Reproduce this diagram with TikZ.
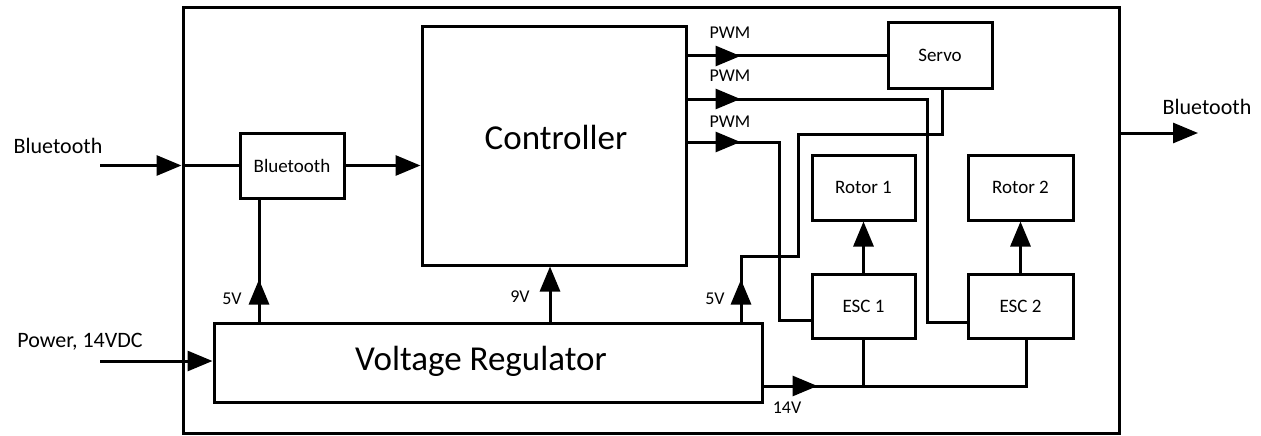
\documentclass[tikz,border=0pt]{standalone}
\usepackage{fontspec}
\setmainfont{Carlito}
\usetikzlibrary{arrows.meta,decorations.markings}
\begin{document}
\begin{tikzpicture}[x=1pt,y=-1pt,
  box/.style={draw, line width=3pt, inner sep=0pt, font=\fontsize{19}{21}\selectfont},
  wire/.style={line width=3pt},
  arr/.style={wire, -{Triangle[length=25pt,width=20pt]}},
  midarrow/.style={wire, postaction={decorate}, decoration={markings, mark=at position #1 with {\arrow{Triangle[length=25pt,width=20pt]}}}},
  lbl/.style={font=\fontsize{18}{20}\selectfont, inner sep=0pt},
  outlbl/.style={font=\fontsize{22}{24}\selectfont, inner sep=0pt},
  big/.style={font=\fontsize{35}{38}\selectfont, inner sep=0pt}
]
\useasboundingbox (0,0) rectangle (1261,436);
% blocks
\node[box, minimum width=936pt, minimum height=425pt] (frame) at (651,220.5) {};
\node[box, minimum width=104pt, minimum height=65pt] (bt) at (292,165.5) {Bluetooth};
\node[box, minimum width=264pt, minimum height=238pt] (ctrl) at (554,146) {};
\node[big] (ctrltext) at (556,137) {Controller};
\node[box, minimum width=548pt, minimum height=79pt] (vr) at (488,362.5) {};
\node[big] (vrtext) at (481,361) {Voltage Regulator};
\node[box, minimum width=104pt, minimum height=65pt] (servo) at (940,55.5) {Servo};
\node[box, minimum width=103pt, minimum height=65pt] (rotor1) at (863.5,187.5) {Rotor 1};
\node[box, minimum width=105pt, minimum height=65pt] (rotor2) at (1020.5,187.5) {Rotor 2};
\node[box, minimum width=103pt, minimum height=64pt] (esc1) at (863.5,306) {ESC 1};
\node[box, minimum width=105pt, minimum height=64pt] (esc2) at (1020.5,306) {ESC 2};
% helper coordinates
\coordinate (btin) at (100,165.5);
\coordinate (pwin) at (100,361);
\coordinate (btout) at (1198,133);
\coordinate (x5a) at (259,0);
\coordinate (x9) at (550,0);
\coordinate (x5b) at (741,0);
\coordinate (j1) at (741,256);
\coordinate (j2) at (798,256);
\coordinate (j3) at (798,134);
\coordinate (j4) at (942,134);
\coordinate (y1) at (0,56);
\coordinate (y2) at (0,99);
\coordinate (y3) at (0,142);
\coordinate (k1) at (927,99);
\coordinate (k2) at (927,322);
\coordinate (m1) at (779,142);
\coordinate (m2) at (779,320);
\coordinate (y14) at (0,386);
\coordinate (n1) at (1026,386);
% connectors
\draw[arr] (btin) -- (btin -| frame.west);
\draw[wire] (btin -| frame.west) -- (bt.west);
\draw[arr] (bt.east) -- (bt.east -| ctrl.west);
\draw[arr] (pwin) -- (pwin -| vr.west);
\draw[midarrow=42pt] (x5a |- vr.north) -- (x5a |- bt.south);
\draw[arr] (x9 |- vr.north) -- (x9 |- ctrl.south);
\draw[midarrow=42pt] (x5b |- vr.north) -- (j1) -- (j2) -- (j3) -- (j4) -- (j4 |- servo.south);
\draw[midarrow=53pt] (ctrl.east |- y1) -- (servo.west |- y1);
\draw[midarrow=53pt] (ctrl.east |- y2) -- (k1) -- (k2) -- (k2 -| esc2.west);
\draw[midarrow=53pt] (ctrl.east |- y3) -- (m1) -- (m2) -- (m2 -| esc1.west);
\draw[arr] (esc1.north) -- (rotor1.south);
\draw[arr] (esc2.north) -- (rotor2.south);
\draw[midarrow=54pt] (vr.east |- y14) -- (n1) -- (n1 |- esc2.south);
\draw[wire] (esc1.south |- y14) -- (esc1.south);
\draw[arr] (frame.east |- btout) -- (btout);
% labels
\node[outlbl] (lbtin) at (58,146) {Bluetooth};
\node[outlbl] (lpw) at (80,342) {Power, 14VDC};
\node[outlbl] (lbtout) at (1207,107) {Bluetooth};
\node[lbl] (lp1) at (730,33) {PWM};
\node[lbl] (lp2) at (730,76) {PWM};
\node[lbl] (lp3) at (730,122) {PWM};
\node[lbl] (l5a) at (232,299) {5V};
\node[lbl] (l9) at (520,297) {9V};
\node[lbl] (l5b) at (715,299) {5V};
\node[lbl] (l14) at (787,408) {14V};
\end{tikzpicture}
\end{document}
